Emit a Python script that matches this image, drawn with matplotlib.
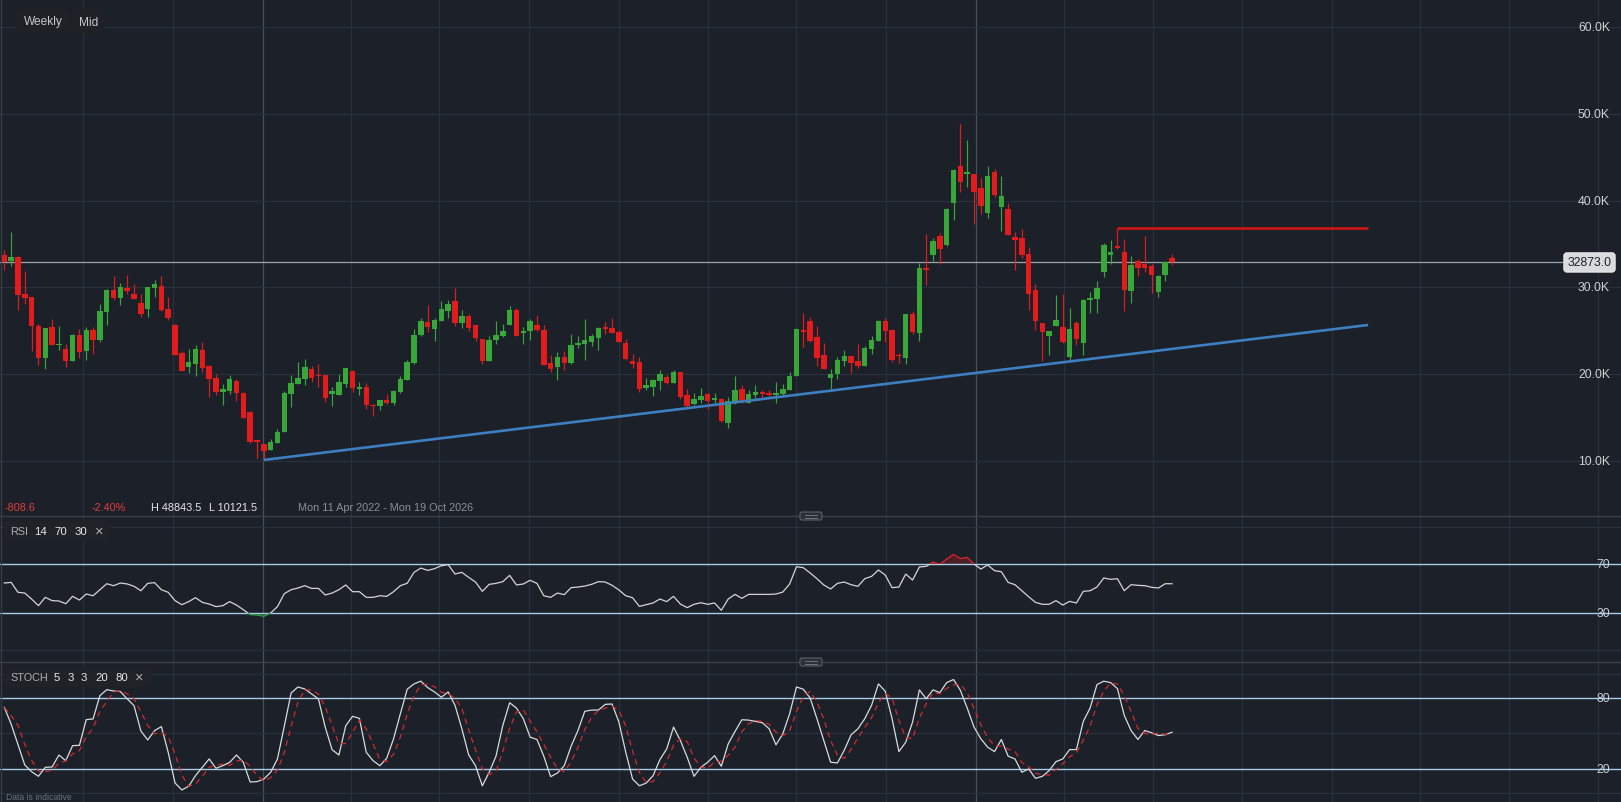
import numpy as np
import pandas as pd
import matplotlib
matplotlib.use("Agg")
import matplotlib.pyplot as plt
from matplotlib.patches import FancyBboxPatch, Rectangle
from matplotlib.lines import Line2D
from matplotlib.transforms import IdentityTransform

plt.rcParams['font.family'] = ['Liberation Sans', 'DejaVu Sans']

# ---------------- DATA (prices in thousands) ----------------
start_date = "2022-04-11"
end_date = "2026-10-19"

open_k = [33.73, 33.04, 33.50, 29.24, 28.89, 25.55, 21.87, 25.44, 23.36, 22.90,
          21.52, 24.52, 22.67, 25.09, 23.94, 27.17, 29.70, 28.78, 29.93, 29.24,
          28.20, 27.51, 29.93, 30.16, 27.51, 25.67, 22.44, 20.83, 21.18, 22.79,
          20.94, 19.56, 17.95, 18.06, 19.22, 17.83, 15.65, 12.42, 11.96, 11.30,
          12.11, 13.34, 17.72, 18.87, 19.45, 20.60, 19.83, 19.91, 17.72, 17.60,
          18.87, 20.37, 18.29, 18.53, 16.49, 16.34, 17.03, 16.68, 17.95, 19.33,
          21.29, 24.52, 26.01, 25.21, 26.13, 27.28, 28.43, 25.90, 26.71, 25.67,
          24.06, 21.52, 23.94, 24.40, 25.67, 27.40, 24.75, 24.98, 25.67, 25.09,
          21.29, 20.83, 21.98, 21.29, 23.36, 23.48, 23.71, 24.17, 25.44, 25.32,
          24.86, 23.59, 21.52, 21.41, 18.41, 18.53, 19.22, 19.68, 18.99, 20.25,
          17.60, 16.57, 17.03, 17.72, 17.03, 17.14, 14.38, 16.76, 18.29, 16.68,
          17.60, 17.95, 17.83, 17.60, 17.72, 18.18, 19.79, 25.09, 26.13, 24.29,
          22.21, 19.56, 20.02, 21.52, 22.10, 21.52, 20.94, 22.90, 23.82, 26.13,
          25.09, 22.21, 21.87, 26.94, 24.75, 32.24, 33.73, 35.92, 34.88, 39.72,
          43.99, 43.06, 43.06, 41.45, 38.57, 43.30, 39.26, 39.03, 35.81, 35.69,
          33.85, 29.70, 25.90, 24.40, 25.55, 25.44, 21.98, 25.90, 23.59, 28.55,
          28.66, 31.77, 33.73, 34.77, 34.08, 29.59, 33.04, 32.70, 32.47, 29.47,
          31.43, 33.39]
high_k = [34.31, 36.38, 33.62, 31.89, 28.89, 25.78, 25.32, 26.36, 25.55, 23.48,
          24.63, 25.21, 25.44, 25.44, 28.09, 29.82, 31.31, 30.51, 31.43, 30.39,
          29.24, 30.05, 30.85, 31.31, 28.89, 25.78, 22.67, 22.90, 23.36, 23.71,
          21.06, 20.02, 18.87, 19.91, 19.45, 17.95, 15.76, 12.42, 11.96, 12.53,
          13.69, 18.06, 19.91, 21.41, 21.75, 20.94, 21.18, 19.91, 18.53, 20.02,
          20.71, 20.48, 19.10, 18.99, 16.57, 17.03, 17.72, 18.18, 19.79, 21.64,
          25.21, 26.47, 27.97, 26.47, 28.43, 28.55, 29.93, 27.40, 26.94, 25.67,
          24.06, 24.40, 26.13, 25.78, 27.86, 27.63, 25.44, 26.36, 26.82, 25.67,
          22.21, 22.56, 22.67, 24.63, 24.40, 26.36, 24.63, 25.44, 26.01, 26.47,
          25.09, 24.06, 22.33, 21.98, 19.56, 19.45, 20.48, 19.91, 20.48, 20.25,
          18.29, 17.83, 18.41, 17.83, 17.83, 17.26, 17.37, 19.79, 18.76, 18.18,
          18.76, 18.18, 18.18, 19.10, 18.87, 20.25, 25.32, 27.05, 26.59, 25.55,
          23.59, 20.60, 21.98, 22.79, 22.10, 23.48, 23.25, 24.40, 26.24, 26.47,
          25.21, 22.44, 26.94, 27.28, 32.81, 36.15, 35.69, 36.27, 39.14, 43.64,
          48.84, 46.98, 43.06, 42.60, 43.99, 43.64, 42.83, 39.72, 36.38, 36.73,
          34.65, 30.39, 25.90, 24.98, 29.12, 29.24, 27.63, 26.13, 28.66, 29.47,
          30.74, 35.12, 35.46, 36.88, 35.58, 33.62, 33.27, 35.92, 32.70, 31.43,
          33.04, 33.85]
low_k = [32.00, 32.50, 27.40, 28.09, 22.67, 21.06, 20.60, 23.36, 22.79, 20.83,
         21.52, 21.87, 21.64, 22.33, 23.71, 25.67, 28.55, 27.97, 29.24, 28.66,
         26.59, 26.59, 28.89, 27.28, 26.24, 22.21, 20.37, 20.14, 19.79, 20.25,
         17.37, 17.60, 16.45, 17.72, 16.91, 14.95, 12.07, 10.35, 10.12, 11.30,
         12.11, 13.34, 16.22, 18.87, 18.76, 19.10, 18.53, 16.80, 16.34, 17.60,
         18.53, 17.95, 17.60, 15.99, 15.18, 15.88, 16.57, 16.45, 17.83, 19.33,
         21.18, 24.40, 24.86, 23.82, 26.13, 26.47, 25.55, 25.32, 24.98, 23.82,
         21.18, 21.52, 23.48, 24.29, 25.67, 24.40, 23.48, 23.94, 24.98, 21.06,
         20.25, 19.33, 20.48, 21.18, 23.02, 21.64, 23.25, 22.79, 24.63, 24.75,
         23.71, 21.64, 20.71, 17.95, 18.18, 17.49, 18.18, 18.87, 18.99, 17.14,
         16.22, 16.45, 16.68, 15.99, 16.68, 14.53, 13.80, 16.57, 16.68, 16.68,
         17.26, 17.26, 17.26, 16.68, 17.60, 18.18, 19.79, 23.13, 23.71, 20.94,
         20.60, 18.18, 19.45, 20.94, 20.14, 20.71, 20.94, 22.33, 23.82, 23.71,
         21.41, 21.29, 21.21, 24.63, 23.82, 30.28, 33.04, 32.70, 34.77, 37.77,
         40.99, 41.57, 37.30, 38.46, 38.00, 40.41, 36.50, 36.04, 32.00, 33.39,
         27.40, 25.09, 21.52, 22.21, 25.55, 23.59, 21.52, 23.36, 22.21, 27.05,
         27.05, 31.20, 32.70, 34.42, 27.28, 28.20, 31.31, 31.77, 29.35, 28.89,
         30.74, 32.58]
close_k = [32.89, 33.50, 29.12, 28.78, 25.55, 21.87, 25.32, 23.36, 23.48, 21.52,
           24.52, 22.56, 25.09, 23.94, 27.28, 29.70, 28.78, 30.05, 29.59, 28.66,
           26.94, 30.05, 30.39, 27.40, 26.47, 22.21, 20.37, 21.41, 22.90, 20.71,
           19.45, 17.95, 18.29, 19.45, 17.83, 14.95, 12.19, 12.19, 11.19, 12.19,
           13.34, 17.83, 18.99, 19.56, 20.83, 19.56, 19.79, 17.26, 18.06, 19.10,
           20.71, 18.41, 18.53, 16.45, 16.37, 17.03, 16.68, 18.06, 19.45, 21.41,
           24.52, 26.13, 25.44, 26.24, 27.51, 28.09, 25.90, 26.71, 25.32, 24.17,
           21.52, 23.94, 24.52, 24.98, 27.40, 24.40, 24.98, 26.13, 25.09, 21.06,
           20.60, 21.98, 21.29, 23.36, 23.59, 23.94, 24.40, 25.32, 25.21, 24.75,
           23.71, 21.75, 21.18, 18.29, 18.76, 19.33, 20.02, 18.99, 20.25, 17.37,
           16.34, 17.14, 17.49, 16.91, 17.26, 14.65, 16.91, 18.18, 16.80, 17.72,
           17.95, 17.72, 17.60, 17.83, 18.29, 19.79, 25.21, 24.86, 23.82, 21.87,
           20.60, 20.02, 21.64, 22.10, 21.29, 20.94, 23.02, 23.94, 26.13, 24.98,
           21.64, 22.10, 26.94, 24.86, 32.24, 32.00, 35.35, 34.42, 39.03, 43.53,
           42.14, 43.30, 40.99, 39.38, 42.83, 40.65, 40.53, 36.04, 35.46, 33.73,
           29.24, 26.13, 24.86, 24.98, 26.24, 23.71, 25.21, 24.06, 28.55, 28.78,
           29.93, 34.88, 34.08, 34.54, 29.70, 32.58, 32.24, 32.24, 31.43, 31.31,
           32.93, 32.873]

rsi_values = [54.5, 55.0, 46.9, 46.3, 41.4, 36.0, 42.8, 40.1, 39.8, 37.6,
              43.6, 40.6, 45.5, 44.1, 49.0, 53.9, 52.3, 54.5, 53.7, 51.8,
              48.2, 54.2, 54.8, 49.0, 46.9, 40.1, 36.8, 39.3, 42.5, 38.7,
              37.3, 35.2, 36.0, 39.3, 36.5, 32.7, 28.6, 28.4, 27.3, 30.0,
              35.2, 45.8, 49.0, 50.4, 52.3, 50.1, 50.1, 44.7, 46.3, 49.0,
              52.9, 47.4, 47.4, 42.8, 42.8, 44.1, 43.6, 47.4, 52.3, 54.3,
              63.2, 66.7, 64.8, 66.2, 68.6, 69.5, 61.8, 63.2, 59.1, 55.3,
              47.7, 53.4, 54.2, 55.6, 60.7, 52.9, 53.7, 56.7, 54.2, 44.1,
              42.8, 46.3, 45.0, 50.7, 51.2, 52.0, 53.4, 55.6, 55.3, 52.6,
              48.8, 44.1, 42.5, 35.4, 36.8, 38.2, 41.4, 39.3, 43.6, 37.3,
              34.4, 37.1, 38.4, 37.1, 38.2, 32.2, 41.4, 45.2, 42.0, 45.2,
              45.2, 45.2, 45.2, 45.5, 47.1, 53.7, 67.8, 67.0, 62.7, 58.0,
              52.9, 49.6, 54.2, 55.3, 53.1, 51.8, 58.0, 59.9, 65.1, 61.0,
              50.7, 51.2, 61.8, 56.9, 67.6, 68.1, 71.6, 69.7, 74.1, 77.9,
              74.4, 75.4, 70.0, 65.9, 69.2, 64.6, 63.7, 55.0, 53.1, 48.2,
              43.3, 38.7, 37.1, 37.1, 40.1, 36.5, 39.5, 38.2, 47.7, 48.2,
              51.2, 58.6, 57.5, 58.0, 48.2, 53.1, 52.6, 52.3, 51.0, 50.4,
              53.9, 53.9]

stoch_k = [72.1, 58.0, 40.6, 23.4, 17.7, 13.8, 21.4, 21.7, 31.8, 27.0,
           39.7, 40.0, 61.7, 62.3, 82.0, 87.0, 85.9, 85.4, 79.2, 73.5,
           52.1, 44.5, 52.4, 55.8, 34.1, 8.2, 2.3, 5.4, 14.4, 21.4,
           28.5, 20.6, 22.8, 25.6, 31.8, 25.6, 9.0, 9.3, 11.5, 17.2,
           28.5, 56.1, 84.2, 89.3, 87.6, 83.4, 79.2, 55.2, 36.3, 31.8,
           56.6, 64.5, 62.8, 34.1, 27.0, 22.8, 29.1, 45.5, 66.7, 87.4,
           91.9, 94.2, 88.8, 85.1, 80.6, 85.1, 73.8, 54.0, 31.9, 22.8,
           5.8, 17.2, 30.8, 56.8, 76.0, 71.5, 62.5, 46.9, 44.9, 30.8,
           13.5, 16.6, 22.8, 39.2, 52.5, 68.7, 69.8, 69.8, 74.6, 74.9,
           59.6, 34.2, 11.5, 5.8, 8.1, 14.3, 27.9, 37.0, 55.4, 44.1,
           29.9, 13.8, 21.4, 25.7, 31.3, 22.3, 41.2, 51.7, 61.6, 61.3,
           60.2, 59.1, 54.0, 40.4, 49.7, 66.7, 89.3, 87.4, 80.0, 62.5,
           44.1, 25.7, 25.1, 35.9, 48.9, 54.0, 62.5, 73.8, 91.9, 85.7,
           62.5, 34.7, 42.6, 59.6, 86.8, 79.4, 86.8, 84.5, 93.0, 95.6,
           86.5, 71.5, 55.4, 45.5, 38.4, 34.7, 44.9, 30.8, 28.5, 17.2,
           20.0, 12.1, 13.8, 18.6, 26.2, 28.5, 36.4, 36.4, 60.2, 71.5,
           91.3, 94.2, 93.0, 87.9, 65.3, 52.5, 44.9, 52.5, 50.6, 48.3,
           48.9, 51.1]

last_price = 32873.0
price_ticks = [10000, 20000, 30000, 40000, 50000, 60000]
price_tick_labels = ["10.0K", "20.0K", "30.0K", "40.0K", "50.0K", "60.0K"]
trend_idx = [38, 199.7]
trend_price = [10121.5, 25670]
resist_idx = [163, 199.7]
resist_price = [36880, 36880]
rsi_levels = [70, 30]
stoch_levels = [80, 20]
header_stats = ["-808.6", "-2.40%", "H 48843.5", "L 10121.5"]

# ---------------- STYLE ----------------
W, H = 1621, 803
BG = '#1b2029'
GRID = '#2a3039'
GRID_BRIGHT = '#4a5059'
UP = '#39a639'
DN = '#e21c1c'
LEVEL = '#a9cde9'
TXT = '#cdd0d5'

o = np.array(open_k) * 1000
h = np.array(high_k) * 1000
l = np.array(low_k) * 1000
c = np.array(close_k) * 1000
n = len(o)
idx = np.arange(n)
rsi = np.array(rsi_values)
k = pd.Series(stoch_k)
d = k.rolling(3, min_periods=1).mean()

fig = plt.figure(figsize=(W / 100, H / 100), dpi=100)
fig.patch.set_facecolor(BG)

def px_axes(top, bottom):
    a = fig.add_axes([0, 1 - bottom / H, 1, (bottom - top) / H])
    a.set_facecolor(BG)
    for s in a.spines.values():
        s.set_visible(False)
    a.set_xticks([]); a.set_yticks([])
    return a

ax = px_axes(0, 517)
ax_rsi = px_axes(517, 663)
ax_st = px_axes(663, 803)

step = 6.829
x0px = 4.3
xlim = (-x0px / step, (W - x0px) / step)
for a in (ax, ax_rsi, ax_st):
    a.set_xlim(*xlim)

ax.set_ylim(3664, 63226)
ax_rsi.set_ylim(-10, 109.2)
ax_st.set_ylim(-7.9, 110.4)

# vertical date grid (quarter starts)
t0 = pd.Timestamp(start_date)
qdates = pd.date_range("2022-07-01", end_date, freq="QS")
bright = {pd.Timestamp("2023-01-01"), pd.Timestamp("2025-01-01")}
for qd in qdates:
    xq = (qd - t0).days / 7.0
    col = GRID_BRIGHT if qd in bright else GRID
    for a in (ax, ax_rsi, ax_st):
        a.axvline(xq, color=col, lw=0.9, zorder=0)

# main horizontal grid
for pt in price_ticks:
    ax.axhline(pt, color=GRID, lw=0.9, zorder=0)

# candles
colors = np.where(c >= o, UP, DN)
ax.vlines(idx, l, h, colors=colors, lw=0.85, zorder=3)
body_lo = np.minimum(o, c)
body_h = np.maximum(np.abs(c - o), 130)
ax.bar(idx, body_h, bottom=body_lo, width=0.8, color=colors, lw=0, zorder=4)

# trend line and resistance
ax.plot(trend_idx, trend_price, color='#3d7fc0', lw=1.9, zorder=5, solid_capstyle='butt')
ax.plot(resist_idx, resist_price, color='#cf1616', lw=1.9, zorder=5, solid_capstyle='butt')

# last price line and label
box_left_px = 1562
ax.plot([xlim[0], (box_left_px - x0px) / step], [last_price, last_price],
        color='#a0a4aa', lw=0.9, zorder=2)
ax.text((1589.5 - x0px) / step, last_price, f"{last_price:.1f}", ha='center', va='center',
        fontsize=8.8, color='#1d2026', zorder=10,
        bbox=dict(boxstyle='round,pad=0.3,rounding_size=0.25', fc='#d9dbde', ec='#f0f1f2', lw=0.7))

# price tick labels
tr = ax.get_yaxis_transform()
for pt, lab in zip(price_ticks, price_tick_labels):
    ax.text(1610 / W, pt, lab, transform=tr, ha='right', va='center', fontsize=8.8, color=TXT)

# ---------------- RSI ----------------
ax_rsi.axhline(100, color=GRID, lw=0.9, zorder=0)
ax_rsi.axhline(0, color=GRID, lw=0.9, zorder=0)
for lv in rsi_levels:
    ax_rsi.axhline(lv, color=LEVEL, lw=1.0, zorder=2)
ax_rsi.fill_between(idx, 70, rsi, where=rsi >= 70, interpolate=True, color='#6b1f28', alpha=0.6, lw=0, zorder=1)
ax_rsi.fill_between(idx, 30, rsi, where=rsi <= 30, interpolate=True, color='#1f5a2a', alpha=0.6, lw=0, zorder=1)
span = xlim[1] - xlim[0]
for y0, y1, col in [(30, 70, '#d3d5d9'), (70, 300, '#e0242c'), (-300, 30, '#2ea043')]:
    ln, = ax_rsi.plot(idx, rsi, color=col, lw=0.9, zorder=3)
    rect = Rectangle((xlim[0], y0), span, y1 - y0, transform=ax_rsi.transData)
    ln.set_clip_path(rect)
trr = ax_rsi.get_yaxis_transform()
for lv in rsi_levels:
    ax_rsi.text(1610 / W, lv, str(lv), transform=trr, ha='right', va='center', fontsize=8.8, color=TXT)

# ---------------- STOCH ----------------
for gl in (0, 50, 100):
    ax_st.axhline(gl, color=GRID, lw=0.9, zorder=0)
for lv in stoch_levels:
    ax_st.axhline(lv, color=LEVEL, lw=1.0, zorder=2)
ax_st.plot(idx, k, color='#d8dadd', lw=0.9, zorder=3)
ax_st.plot(idx, d, color='#d42a2a', lw=0.9, ls=(0, (4.5, 3.5)), zorder=3)
trs = ax_st.get_yaxis_transform()
for lv in stoch_levels:
    ax_st.text(1610 / W, lv, str(lv), transform=trs, ha='right', va='center', fontsize=8.8, color=TXT)

# ---------------- overlays (pixel coords) ----------------
ident = IdentityTransform()

def pbox(x1, y1, x2, y2, fc, ec='none', r=3, lw=0):
    p = FancyBboxPatch((x1, H - y2), x2 - x1, y2 - y1,
                       boxstyle=f'round,pad=0,rounding_size={r}',
                       transform=ident, fc=fc, ec=ec, lw=lw, zorder=6)
    fig.patches.append(p)

def ptext(x, y, s, color, size, ha='left'):
    fig.text(x / W, 1 - y / H, s, color=color, fontsize=size, ha=ha, va='center', zorder=8)

# separators
for yy in (517, 663):
    fig.lines.append(Line2D([0, 1], [1 - yy / H] * 2, transform=fig.transFigure,
                            color='#3b4049', lw=1.0, zorder=5))
    pbox(800, yy - 4, 822, yy + 4, fc='#2c3139', ec='#5c6169', r=2, lw=0.8)
    for dy in (-1.5, 1.5):
        fig.lines.append(Line2D([805 / W, 817 / W], [1 - (yy + dy) / H] * 2, transform=fig.transFigure,
                                color='#7a7f86', lw=0.6, zorder=7))

# left border
fig.lines.append(Line2D([0.8 / W] * 2, [0, 1], transform=fig.transFigure, color='#3a3f47', lw=0.9, zorder=5))

# top-left buttons
pbox(16, 10, 69, 34, fc='#1e2126')
pbox(71, 10, 105, 34, fc='#1e2126')
ptext(24, 22.5, "Weekly", '#c2c7ce', 8.6)
ptext(78.5, 22.5, "Mid", '#c2c7ce', 8.6)

# footer stats row
ptext(5, 508, header_stats[0], '#e23d3d', 7.8)
ptext(92, 508, header_stats[1], '#e23d3d', 7.8)
ptext(151, 508, header_stats[2], '#e6e8ea', 7.8)
ptext(209, 508, header_stats[3], '#e6e8ea', 7.8)
d0 = pd.Timestamp(start_date)
d1 = pd.Timestamp(end_date)
ptext(298, 508, f"{d0:%a} {d0.day} {d0:%b %Y} - {d1:%a} {d1.day} {d1:%b %Y}", '#8b9097', 7.8)

# RSI header
pbox(4, 522, 111, 542, fc='#1f2227')
ptext(10.5, 532, "RSI", '#a9aeb5', 7.8)
ptext(34, 532, "14", '#e6e8ea', 8.2)
ptext(54, 532, "70", '#e6e8ea', 8.2)
ptext(75, 532, "30", '#e6e8ea', 8.2)
ptext(94.5, 531.5, "\u00d7", '#a9aeb5', 10.5)

# STOCH header
pbox(4, 668, 152, 688, fc='#1f2227')
ptext(10.5, 678, "STOCH", '#a9aeb5', 7.8)
ptext(54, 678, "5", '#e6e8ea', 8.2)
ptext(67.5, 678, "3", '#e6e8ea', 8.2)
ptext(81, 678, "3", '#e6e8ea', 8.2)
ptext(95, 678, "20", '#e6e8ea', 8.2)
ptext(116, 678, "80", '#e6e8ea', 8.2)
ptext(135, 677.5, "\u00d7", '#a9aeb5', 10.5)

ptext(6, 797.5, "Data is indicative", '#6c7380', 6.2)

fig.savefig("out.png", dpi=100, facecolor=BG)
